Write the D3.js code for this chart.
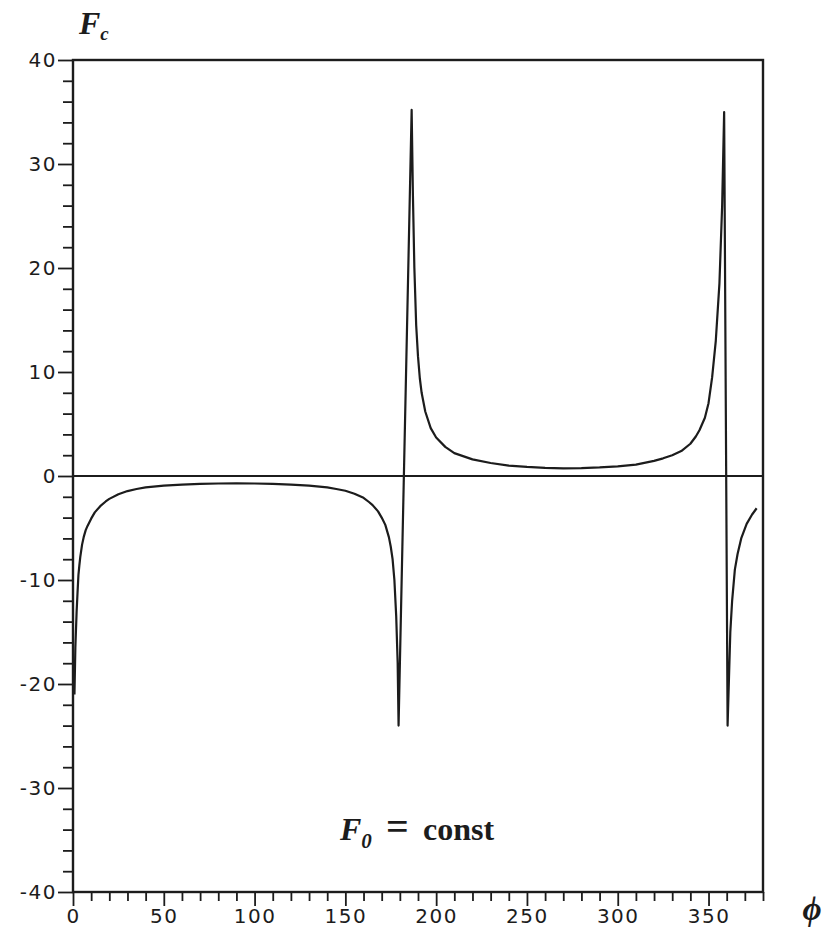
<!DOCTYPE html>
<html>
<head>
<meta charset="utf-8">
<script src="https://cdn.jsdelivr.net/npm/d3@7"></script>
<style>
body { margin: 0; background: #fff; }
text { fill: #1c1c1c; }
</style>
</head>
<body>
<svg id="chart" width="822" height="932"></svg>
<script>
// angle phi (deg)
var phi = [0.8, 1.3, 2, 2.5, 3, 3.5, 4, 5, 6, 7, 8, 10, 12, 15, 18, 20, 25, 30, 35, 40, 50, 60, 70, 80, 90,
    100, 110, 120, 130, 140, 145, 150, 155, 160, 163, 165, 168, 170, 172, 174, 175, 176, 177, 178, 178.8, 179.3,
    186.5, 187.2, 188, 189, 190, 191, 192, 194, 197, 200, 205, 210, 220, 230, 240, 250, 260, 270,
    280, 290, 300, 310, 320, 325, 330, 335, 340, 343, 345, 348, 350, 352, 354, 356, 357.5, 358.6,
    360.5, 362, 363, 364.5, 366, 368, 371, 374, 376.5];

// F_c at each phi
var fc = [-21, -16.5, -13, -11.2, -9.5, -8.6, -7.8, -6.6, -5.8, -5.2, -4.8, -4.1, -3.5, -2.9, -2.45, -2.2, -1.75, -1.45, -1.25, -1.1, -0.92, -0.82, -0.76, -0.72, -0.7,
    -0.72, -0.76, -0.82, -0.92, -1.1, -1.25, -1.42, -1.7, -2.1, -2.5, -2.8, -3.4, -4.0, -4.7, -5.9, -6.8, -8.0, -10, -13.5, -18, -24,
    35.2, 27, 20, 14.5, 11.5, 9.4, 8, 6.2, 4.6, 3.7, 2.8, 2.2, 1.6, 1.25, 1.0, 0.87, 0.78, 0.74,
    0.76, 0.82, 0.93, 1.1, 1.45, 1.7, 2.0, 2.4, 3.1, 3.8, 4.4, 5.6, 7.0, 9.5, 13, 18.5, 26, 35,
    -24, -15, -12, -9, -7.5, -6, -4.6, -3.7, -3.1];

var xMajor = [0, 50, 100, 150, 200, 250, 300, 350];
var xMinor = [10, 20, 30, 40, 60, 70, 80, 90, 110, 120, 130, 140, 160, 170, 180, 190,
    210, 220, 230, 240, 260, 270, 280, 290, 310, 320, 330, 340, 360, 370, 380];
var yMajor = [-40, -30, -20, -10, 0, 10, 20, 30, 40];
var yMinor = [-38, -36, -34, -32, -28, -26, -24, -22, -18, -16, -14, -12, -8, -6, -4, -2,
    2, 4, 6, 8, 12, 14, 16, 18, 22, 24, 26, 28, 32, 34, 36, 38];

var ink = "#1c1c1c";
var svg = d3.select("#chart");

var x = d3.scaleLinear().domain([0, 380]).range([73, 763]);
var y = d3.scaleLinear().domain([-40, 40]).range([892, 60]);

function fmt(d) {
    return d < 0 ? "-" + Math.abs(d) : "" + d;
}

// minor ticks
svg.append("g")
    .attr("transform", "translate(" + x(0) + ",0)")
    .call(d3.axisLeft(y).tickValues(yMinor).tickSize(10).tickSizeOuter(0).tickFormat(""))
    .call(function (g) { g.select(".domain").remove(); });
svg.append("g")
    .attr("transform", "translate(0," + y(-40) + ")")
    .call(d3.axisBottom(x).tickValues(xMinor).tickSize(9).tickSizeOuter(0).tickFormat(""))
    .call(function (g) { g.select(".domain").remove(); });

// major ticks with labels
var yAxis = svg.append("g")
    .attr("transform", "translate(" + x(0) + ",0)")
    .call(d3.axisLeft(y).tickValues(yMajor).tickSize(15).tickPadding(1).tickSizeOuter(0).tickFormat(fmt));
yAxis.select(".domain").remove();

var xAxis = svg.append("g")
    .attr("transform", "translate(0," + y(-40) + ")")
    .call(d3.axisBottom(x).tickValues(xMajor).tickSize(14).tickPadding(3).tickSizeOuter(0).tickFormat(fmt));
xAxis.select(".domain").remove();

svg.selectAll(".tick line").attr("stroke", ink).attr("stroke-width", 1.8);
svg.selectAll(".tick text")
    .style("font-family", "DejaVu Sans")
    .style("font-size", "20px")
    .style("letter-spacing", "1.5px")
    .attr("fill", ink);

// frame
svg.append("rect")
    .attr("x", x(0))
    .attr("y", y(40))
    .attr("width", x(380) - x(0))
    .attr("height", y(-40) - y(40))
    .attr("fill", "none")
    .attr("stroke", ink)
    .attr("stroke-width", 2.4);

// zero line
svg.append("line")
    .attr("x1", x(0)).attr("x2", x(380))
    .attr("y1", y(0)).attr("y2", y(0))
    .attr("stroke", ink)
    .attr("stroke-width", 1.8);

var pts = phi.map(function (p, i) { return [p, fc[i]]; });

var line = d3.line()
    .x(function (d) { return x(d[0]); })
    .y(function (d) { return y(d[1]); });

svg.append("path")
    .datum(pts)
    .attr("d", line)
    .attr("fill", "none")
    .attr("stroke", ink)
    .attr("stroke-width", 2.2)
    .attr("stroke-linejoin", "round");

// axis titles
var yt = svg.append("text")
    .attr("x", 79)
    .attr("y", 34)
    .style("font-family", "Liberation Serif")
    .style("font-weight", "bold")
    .style("font-style", "italic")
    .style("font-size", "32px");
yt.append("tspan").text("F");
yt.append("tspan").attr("dy", 6).style("font-size", "19px").text("c");

svg.append("text")
    .attr("x", 812)
    .attr("y", 920)
    .attr("text-anchor", "middle")
    .style("font-family", "Liberation Serif")
    .style("font-weight", "bold")
    .style("font-style", "italic")
    .style("font-size", "33px")
    .text("\u03d5");

// annotation
var ann = svg.append("text")
    .attr("x", 340)
    .attr("y", 840)
    .style("font-family", "Liberation Serif")
    .style("font-weight", "bold")
    .style("font-size", "32px");
ann.append("tspan").style("font-style", "italic").text("F");
ann.append("tspan").attr("dy", 8).style("font-style", "italic").style("font-size", "21px").text("0");
ann.append("tspan").attr("x", 386).attr("dy", -8).style("font-size", "40px").text("=");
ann.append("tspan").attr("x", 423).text("const");
</script>
</body>
</html>
